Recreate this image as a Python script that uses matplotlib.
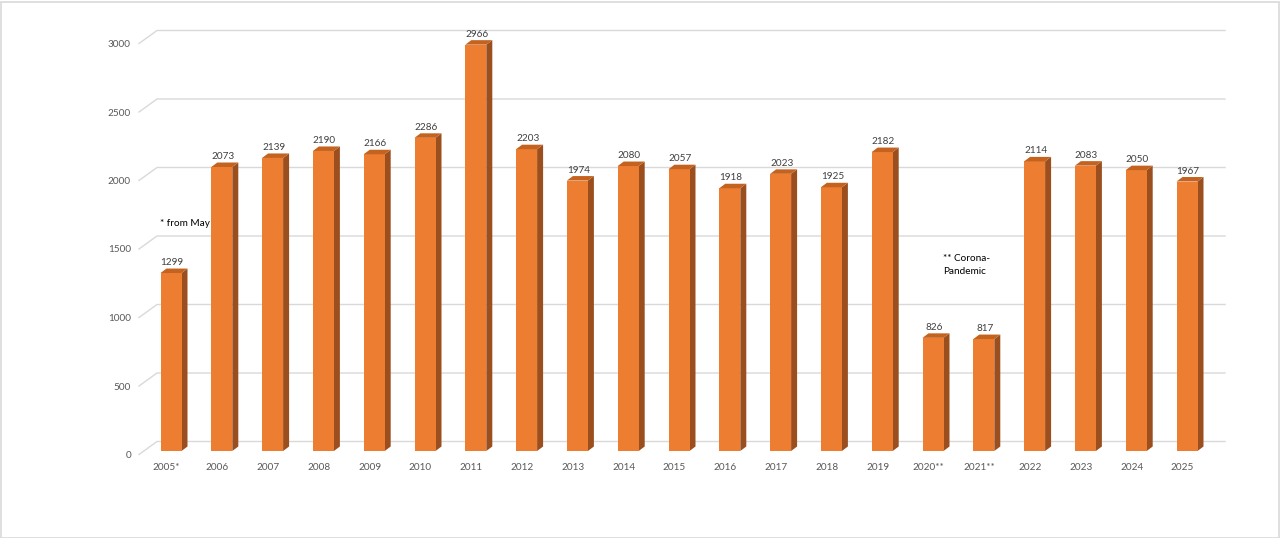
import matplotlib
matplotlib.use("Agg")
import matplotlib.pyplot as plt
from matplotlib.patches import Polygon, Rectangle
import numpy as np

categories = ["2005*", "2006", "2007", "2008", "2009", "2010", "2011", "2012", "2013",
              "2014", "2015", "2016", "2017", "2018", "2019", "2020**", "2021**",
              "2022", "2023", "2024", "2025"]
values = [1299, 2073, 2139, 2190, 2166, 2286, 2966, 2203, 1974, 2080, 2057, 1918,
          2023, 1925, 2182, 826, 817, 2114, 2083, 2050, 1967]
yticks = [0, 500, 1000, 1500, 2000, 2500, 3000]

plt.rcParams['font.family'] = ['Lato', 'DejaVu Sans']

W, H = 1280, 538
fig = plt.figure(figsize=(W / 100, H / 100), dpi=100)
fig.patch.set_facecolor("white")
fig.patches.append(Rectangle((0.5 / W, 0.5 / H), 1 - 2 / W, 1 - 2 / H, transform=fig.transFigure,
                             fill=False, edgecolor="#d9d9d9", linewidth=1.2, zorder=0))

# axes occupies pixels x 100..1240, y 20..451 (top-down)
px_per_cat = 50.8
px_per_unit = 0.137
x0_px = 171
ax_left, ax_right = 100, 1240
ax_top, ax_bottom = 20, 451
ax = fig.add_axes([ax_left / W, (H - ax_bottom) / H, (ax_right - ax_left) / W, (ax_bottom - ax_top) / H])
ax.set_xlim((ax_left - x0_px) / px_per_cat, (ax_right - x0_px) / px_per_cat)
ax.set_ylim(0, (ax_bottom - ax_top) / px_per_unit)
ax.axis("off")


def px2x(p):
    return p / px_per_cat


def px2y(p):
    return p / px_per_unit


# back-wall gridlines and left-wall diagonals
back_dy = px2y(9.5)
front_dy = px2y(-3.5)
x_wall_front = (139 - x0_px) / px_per_cat
x_wall_back = (157 - x0_px) / px_per_cat
x_grid_end = (1225 - x0_px) / px_per_cat
for v in yticks:
    ax.plot([x_wall_front, x_wall_back, x_grid_end], [v + front_dy, v + back_dy, v + back_dy],
            color="#d9d9d9", lw=1.0, zorder=1, clip_on=False, solid_joinstyle="miter")
    ax.text((131 - x0_px) / px_per_cat, v + front_dy - px2y(1), f"{v}", ha="right", va="center",
            fontsize=7.2, color="#595959")

bw = 21 / px_per_cat
ddx = px2x(6)
ddy = px2y(4.5)
front_c = "#ED7D31"
side_c = "#9C4F1E"
top_c = "#C4631F"
xs = np.arange(len(values))
ax.bar(xs, values, width=bw, color=front_c, zorder=3, linewidth=0)
for x, v in zip(xs, values):
    l, r = x - bw / 2, x + bw / 2
    ax.add_patch(Polygon([[r, 0], [r + ddx, ddy], [r + ddx, v + ddy], [r, v]],
                         closed=True, facecolor=side_c, edgecolor="none", zorder=2.9))
    ax.add_patch(Polygon([[l, v], [l + ddx, v + ddy], [r + ddx, v + ddy], [r, v]],
                         closed=True, facecolor=top_c, edgecolor="none", zorder=3.1))
    ax.text(x + px2x(1), v + ddy + px2y(1.5), f"{v}", ha="center", va="bottom",
            fontsize=7.2, color="#404040", zorder=4)
    ax.text(x - px2x(4.5), px2y(-16), categories[x],
            ha="center", va="center", fontsize=7.2, color="#595959", clip_on=False)

ax.text((160 - x0_px) / px_per_cat, px2y(451 - 223), "* from May", ha="left", va="center",
        fontsize=7.2, color="#000000")
ax.text((943 - x0_px) / px_per_cat, px2y(451 - 265), "** Corona-\nPandemic", ha="left", va="center",
        fontsize=7.2, color="#000000", linespacing=1.45)

fig.savefig("out.png", dpi=100, facecolor="white")
